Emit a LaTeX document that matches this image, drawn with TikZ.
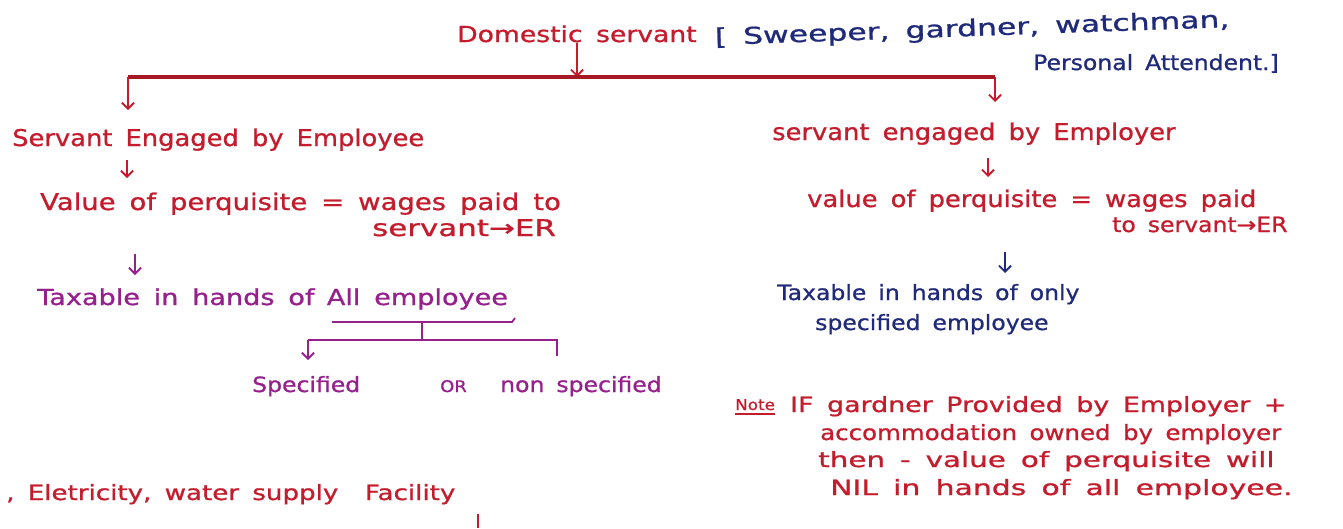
\documentclass[tikz,border=0pt]{standalone}
\usepackage{fontspec}
\usepackage{graphicx}
\setmainfont{DejaVu Sans}[FakeStretch=1.12, WordSpace=1.6, FakeBold=0.9]
\usetikzlibrary{arrows.meta}

\definecolor{inkred}{RGB}{196,28,44}
\definecolor{inkblue}{RGB}{32,42,122}
\definecolor{inkpurple}{RGB}{150,32,140}

% horizontal stretch of a line of text
\newcommand\hs[2]{\scalebox{#1}[1]{#2}}

\tikzset{
  fs/.style={font=\fontsize{#1}{#1}\selectfont},
  txt/.style={anchor=base west, inner sep=0pt},
  rtxt/.style={txt, text=inkred},
  btxt/.style={txt, text=inkblue},
  ptxt/.style={txt, text=inkpurple},
  tip/.style={-{Straight Barb[length=6pt,width=12pt,line width=1.8pt]}, line width=1.8pt},
  bar/.style={line width=3.2pt, draw=inkred!85!black},
  pline/.style={draw=inkpurple, line width=1.8pt},
}

\begin{document}
\begin{tikzpicture}[x=1pt, y=-1pt]
  \fill[white] (0,0) rectangle (1343,528);
  \useasboundingbox (0,0) rectangle (1343,528);

  % heading and list of servants
  \node[rtxt, fs=22] (dom) at (457,42) {\hs{1.08}{Domestic servant}};
  \node[btxt, fs=23, rotate=2] (roles1) at (715,45) {\hs{1.22}{[ Sweeper, gardner, watchman,}};
  \node[btxt, fs=21] (roles2) at (1033,70) {Personal Attendent.]};

  % split into the two cases
  \coordinate (hub) at (577,77);
  \coordinate (lc) at (128,77);
  \coordinate (rc) at (995,77);
  \coordinate (la) at (128,110);
  \coordinate (ra) at (995,102);
  \draw[tip, inkred] (dom.south -| hub) -- (hub);
  \draw[bar] (lc) -- (rc);
  \draw[tip, inkred] (lc) -- (la);
  \draw[tip, inkred] (rc) -- (ra);

  % left branch
  \node[rtxt, fs=23] (emp) at (12,146) {Servant Engaged by Employee};
  \coordinate (ea) at (127,160);
  \coordinate (eb) at (127,178);
  \draw[tip, inkred] (ea) -- (eb);
  \node[rtxt, fs=23] (val1) at (40,210) {\hs{1.066}{Value of perquisite = wages paid to}};
  \node[rtxt, fs=23] (val1b) at (372,236) {\hs{1.2}{servant→ER}};
  \coordinate (va) at (135,254);
  \coordinate (vb) at (135,275);
  \draw[tip, inkpurple] (va) -- (vb);
  \node[ptxt, fs=22] (tax1) at (37,305) {\hs{1.1}{Taxable in hands of}};
  \node[ptxt, fs=22] (allemp) at ([xshift=12pt]tax1.base east) {\hs{1.1}{All employee}};

  % all employee: specified or non specified
  \coordinate (u1) at (332,322);
  \coordinate (u2) at (512,322);
  \coordinate (um) at (422,322);
  \coordinate (bm) at (422,340);
  \coordinate (bl) at (308,340);
  \coordinate (br) at (557,340);
  \coordinate (bla) at (308,360);
  \coordinate (brt) at (557,356);
  \draw[pline] (u1) -- (u2) -- ++(3,-4);
  \draw[pline] (um) -- (bm);
  \draw[pline] (bl) -- (br) -- (brt);
  \draw[tip, inkpurple] (bl) -- (bla);
  \node[ptxt, fs=21] (spec) at (252,392) {Specified};
  \node[ptxt, fs=16] (orw) at (440,392) {OR};
  \node[ptxt, fs=21] (nspec) at (500,392) {non specified};

  % right branch
  \node[rtxt, fs=23] (er) at (772,140) {servant engaged by Employer};
  \coordinate (ra1) at (988,158);
  \coordinate (ra2) at (988,177);
  \draw[tip, inkred] (ra1) -- (ra2);
  \node[rtxt, fs=23] (val2) at (807,207) {value of perquisite = wages paid};
  \node[rtxt, fs=21] (val2b) at (1112,232) {to servant→ER};
  \coordinate (rb1) at (1005,252);
  \coordinate (rb2) at (1005,273);
  \draw[tip, inkblue] (rb1) -- (rb2);
  \node[btxt, fs=21] (tax2a) at (777,300) {Taxable in hands of only};
  \node[btxt, fs=21] (tax2b) at (815,330) {specified employee};

  % note on the gardner
  \node[rtxt, fs=15] (note) at (735,410) {Note};
  \draw[inkred, line width=1.5pt] ([yshift=-4pt]note.base west) -- ([yshift=-4pt]note.base east);
  \node[rtxt, fs=21] (n1) at (790,412) {\hs{1.14}{IF gardner Provided by Employer +}};
  \node[rtxt, fs=21] (n2) at (820,440) {\hs{1.04}{accommodation owned by employer}};
  \node[rtxt, fs=21] (n3) at (818,467) {\hs{1.25}{then - value of perquisite will}};
  \node[rtxt, fs=21] (n4) at (830,495) {\hs{1.27}{NIL in hands of all employee.}};

  % facilities
  \node[rtxt, fs=21] (fac) at (6,500) {\hs{1.11}{, Eletricity, water supply \ Facility}};
  \coordinate (fa) at (478,514);
  \coordinate (fb) at (478,528);
  \draw[inkred, line width=1.8pt] (fa) -- (fb);
\end{tikzpicture}
\end{document}
